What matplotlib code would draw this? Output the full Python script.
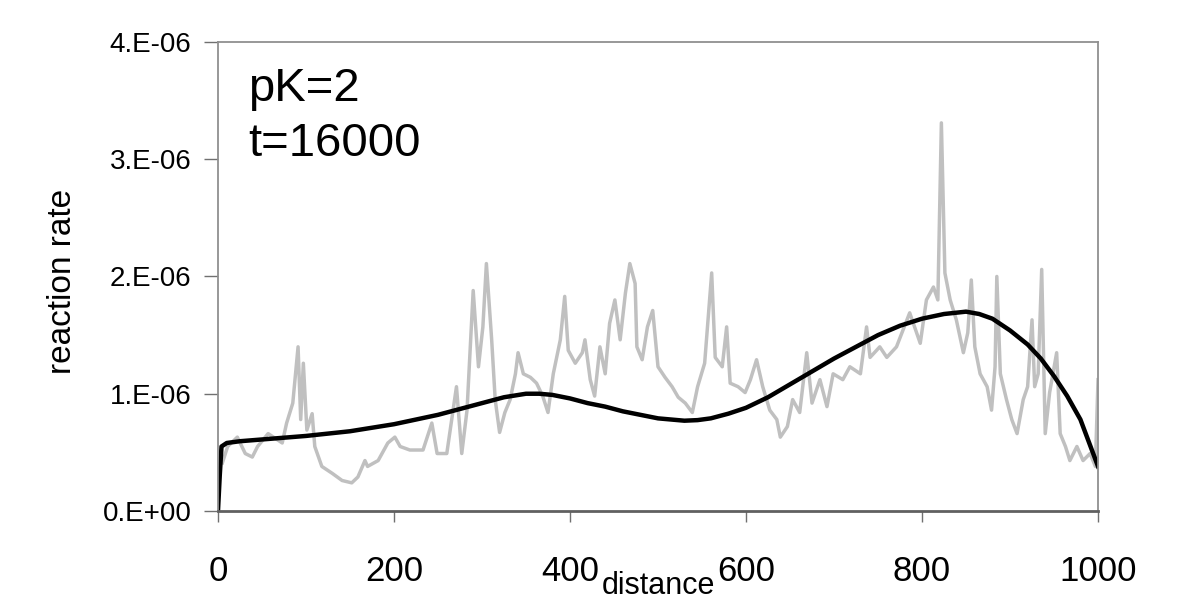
import matplotlib.pyplot as plt

plt.rcParams['font.family'] = ['Liberation Sans', 'DejaVu Sans']

# simulated rate (noisy, gray) - distance / rate (x1e-6)
sim_x = [5, 11, 22, 31, 39, 45, 57, 65, 73, 78, 85, 91, 94, 97, 101, 107, 110,
         118, 130, 141, 152, 159, 167, 170, 182, 193, 201, 207, 218, 233, 243,
         249, 260, 271, 277, 283, 290, 296, 301, 305, 311, 315, 320, 326, 332,
         338, 341, 347, 355, 362, 369, 375, 381, 389, 394, 398, 406, 414, 417,
         423, 428, 434, 440, 445, 451, 457, 463, 468, 474, 476, 482, 488, 494,
         500, 508, 516, 523, 531, 539, 545, 553, 561, 565, 573, 578, 582, 591,
         599, 605, 612, 619, 627, 635, 639, 647, 653, 661, 669, 675, 684, 692,
         699, 710, 718, 730, 737, 741, 752, 760, 771, 786, 798, 805, 813, 818,
         822, 826, 832, 839, 847, 852, 856, 860, 866, 874, 879, 883, 885, 889,
         896, 902, 908, 915, 920, 925, 928, 932, 936, 940, 945, 953, 957, 963,
         968, 976, 983, 991, 997, 1000]
sim_y = [0.41, 0.55, 0.63, 0.49, 0.46, 0.55, 0.66, 0.62, 0.58, 0.75, 0.92, 1.40,
         0.78, 1.26, 0.69, 0.83, 0.55, 0.38, 0.32, 0.26, 0.24, 0.29, 0.43, 0.38,
         0.43, 0.58, 0.63, 0.55, 0.52, 0.52, 0.75, 0.49, 0.49, 1.06, 0.49, 0.86,
         1.88, 1.23, 1.57, 2.11, 1.46, 0.95, 0.67, 0.84, 0.95, 1.17, 1.35, 1.17,
         1.14, 1.09, 0.98, 0.84, 1.17, 1.46, 1.83, 1.37, 1.26, 1.35, 1.46, 1.12,
         0.98, 1.40, 1.17, 1.60, 1.80, 1.46, 1.86, 2.11, 1.94, 1.40, 1.29, 1.57,
         1.71, 1.23, 1.14, 1.06, 0.97, 0.92, 0.84, 1.06, 1.26, 2.03, 1.31, 1.23,
         1.57, 1.09, 1.06, 1.01, 1.12, 1.29, 1.06, 0.86, 0.78, 0.63, 0.72, 0.95,
         0.84, 1.35, 0.92, 1.12, 0.89, 1.17, 1.12, 1.23, 1.17, 1.57, 1.31, 1.40,
         1.31, 1.40, 1.69, 1.43, 1.80, 1.91, 1.80, 3.31, 2.03, 1.80, 1.63, 1.35,
         1.52, 1.97, 1.40, 1.17, 1.06, 0.86, 1.23, 2.00, 1.17, 0.95, 0.78, 0.66,
         0.95, 1.06, 1.63, 1.06, 1.17, 2.06, 0.66, 1.01, 1.35, 0.66, 0.55, 0.43,
         0.55, 0.43, 0.49, 0.38, 1.12]

# model rate (smooth, black)
model_x = [0, 2, 4, 10, 25, 50, 75, 100, 125, 150, 175, 200, 225, 250, 275,
           300, 325, 350, 365, 380, 400, 420, 440, 460, 480, 500, 515, 530,
           545, 560, 580, 600, 625, 650, 675, 700, 725, 750, 775, 800, 825,
           850, 865, 880, 900, 920, 935, 950, 965, 980, 990, 1000]
model_y = [0.0, 0.3, 0.55, 0.58, 0.595, 0.61, 0.625, 0.64, 0.66, 0.68, 0.71,
           0.74, 0.78, 0.82, 0.87, 0.92, 0.97, 1.0, 1.0, 0.99, 0.96, 0.92, 0.89,
           0.85, 0.82, 0.79, 0.78, 0.77, 0.775, 0.79, 0.83, 0.88, 0.97, 1.08,
           1.19, 1.3, 1.4, 1.5, 1.58, 1.64, 1.68, 1.70, 1.68, 1.64, 1.54, 1.42,
           1.30, 1.15, 0.98, 0.78, 0.58, 0.38]

x_ticks = [0, 200, 400, 600, 800, 1000]
y_ticks = [0, 1e-6, 2e-6, 3e-6, 4e-6]
y_ticklabels = ['0.E+00', '1.E-06', '2.E-06', '3.E-06', '4.E-06']

fig = plt.figure(figsize=(11.77, 6.05), dpi=100)
ax = fig.add_axes([0.1852, 0.1554, 0.7477, 0.7752])

ax.plot(sim_x, [v * 1e-6 for v in sim_y], color='#c0c0c0', lw=2.5)
ax.plot(model_x, [v * 1e-6 for v in model_y], color='black', lw=3.2)

ax.set_xlim(0, 1000)
ax.set_ylim(0, 4e-6)
ax.set_xticks(x_ticks)
ax.set_xticklabels([str(t) for t in x_ticks])
ax.set_yticks(y_ticks)
ax.set_yticklabels(y_ticklabels)
ax.tick_params(axis='x', direction='out', length=8, width=1, color='#707070',
               labelsize=25, pad=24)
ax.tick_params(axis='y', direction='out', length=10, width=1, color='#707070',
               labelsize=20, pad=9)
for s in ax.spines.values():
    s.set_color('#909090')
    s.set_linewidth(1.3)
ax.spines['bottom'].set_color('#606060')
ax.spines['bottom'].set_linewidth(2)

ax.text(0.034, 0.875, 'pK=2', transform=ax.transAxes, fontsize=34, va='baseline')
ax.text(0.034, 0.756, 't=16000', transform=ax.transAxes, fontsize=34, va='baseline')

fig.text(0.559, 0.006, 'distance', fontsize=22, ha='center', va='bottom')
fig.text(0.053, 0.535, 'reaction rate', fontsize=24, ha='center', va='center',
         rotation=90)

plt.savefig('out.png', dpi=100)
